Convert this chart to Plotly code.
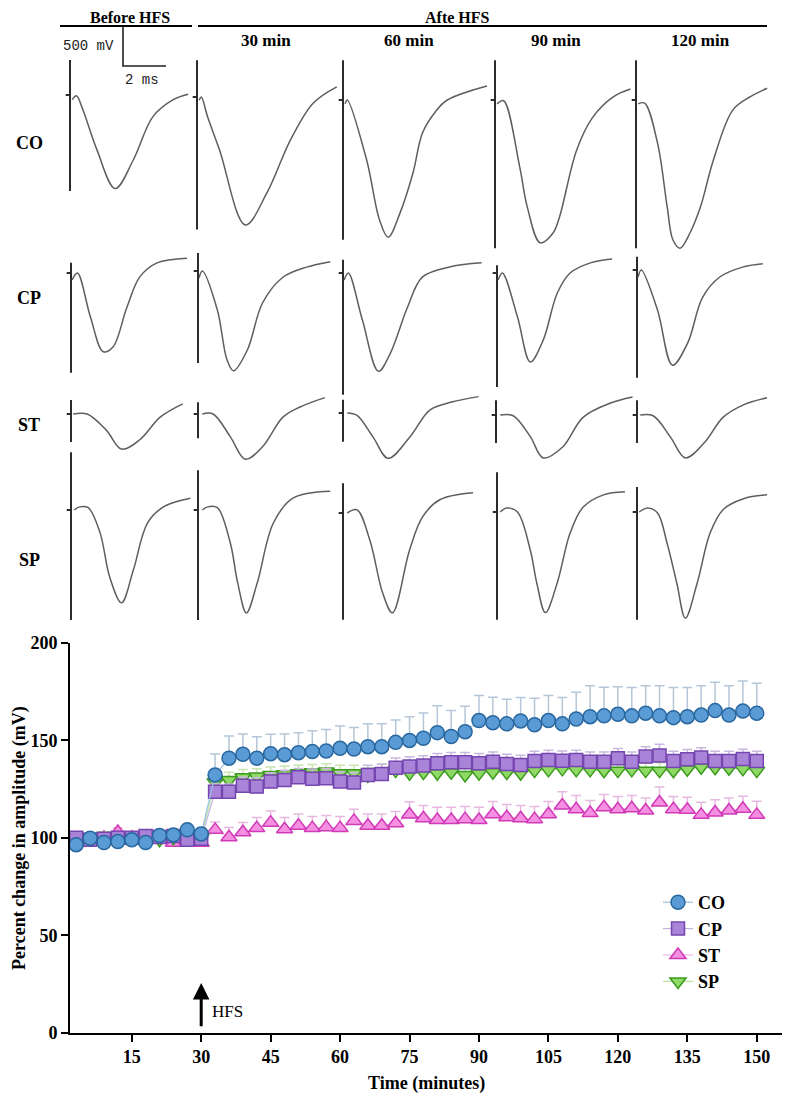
import plotly.graph_objects as go

# ---- LTP time course (percent of baseline amplitude) ----
time_min = [3, 6, 9, 12, 15, 18, 21, 24, 27, 30,
            33, 36, 39, 42, 45, 48, 51, 54, 57, 60,
            63, 66, 69, 72, 75, 78, 81, 84, 87, 90,
            93, 96, 99, 102, 105, 108, 111, 114, 117, 120,
            123, 126, 129, 132, 135, 138, 141, 144, 147, 150]

co_mean = [96.5, 99.8, 97.6, 98.1, 99.0, 97.6, 101.2, 101.5, 104.1, 102.0,
           132.3, 140.9, 142.9, 140.9, 143.2, 142.7, 143.7, 144.3, 144.6, 146.0,
           145.6, 146.8, 146.8, 149.0, 150.0, 151.1, 154.0, 152.0, 154.5, 160.2,
           159.1, 158.5, 160.0, 158.0, 160.2, 158.5, 161.0, 162.2, 162.6, 163.4,
           162.6, 164.0, 162.6, 161.7, 162.2, 163.0, 165.3, 163.0, 165.1, 164.0]
co_sem = [2.0, 2.0, 2.0, 2.0, 2.0, 2.0, 2.5, 2.5, 3.0, 3.0,
          10.7, 11.4, 10.4, 11.0, 10.0, 10.6, 10.3, 10.7, 11.0, 11.4,
          11.0, 11.7, 11.7, 11.5, 12.2, 13.0, 13.8, 13.3, 13.0, 12.8,
          13.0, 12.6, 12.0, 13.6, 12.8, 13.5, 13.7, 15.8, 14.7, 14.2,
          14.5, 14.0, 15.4, 15.4, 14.9, 15.1, 14.5, 15.1, 15.4, 15.3]

cp_mean = [100.0, 99.0, 99.5, 100.0, 100.0, 101.0, 100.5, 101.0, 99.0, 99.5,
           123.7, 123.7, 126.7, 126.3, 128.9, 129.7, 131.1, 130.3, 130.6, 128.9,
           128.4, 132.3, 132.8, 136.0, 136.6, 137.1, 138.3, 138.8, 138.8, 138.3,
           139.1, 137.9, 137.4, 139.5, 140.0, 139.6, 140.0, 139.1, 139.1, 140.9,
           139.1, 141.7, 142.2, 139.5, 140.4, 141.2, 139.5, 139.5, 140.5, 139.5]
cp_sem = [2.0, 2.0, 2.0, 2.0, 2.0, 2.0, 2.0, 2.0, 2.0, 2.0,
          4.0, 4.0, 4.5, 4.5, 4.5, 5.0, 4.5, 5.0, 5.0, 5.0,
          5.0, 5.0, 5.0, 5.0, 5.0, 5.0, 5.0, 5.0, 5.0, 5.0,
          5.0, 5.0, 5.0, 5.0, 5.0, 5.0, 5.0, 5.0, 5.0, 5.0,
          5.0, 5.0, 5.8, 5.0, 5.0, 5.0, 5.0, 5.0, 5.0, 5.0]

st_mean = [99.0, 99.0, 100.0, 103.0, 100.0, 100.0, 100.0, 97.5, 97.5, 97.5,
           104.1, 100.3, 102.9, 105.0, 107.8, 104.4, 106.2, 105.0, 105.5, 105.0,
           108.7, 106.2, 106.2, 107.5, 112.0, 110.1, 109.2, 109.2, 109.6, 109.2,
           112.1, 110.6, 110.1, 109.6, 112.1, 116.6, 114.7, 112.7, 115.7, 114.7,
           115.2, 114.0, 118.1, 114.7, 114.4, 111.8, 113.0, 114.0, 114.9, 111.8]
st_sem = [2.0, 2.0, 2.0, 2.0, 2.0, 2.0, 2.0, 2.0, 2.0, 2.0,
          4.0, 5.0, 5.0, 5.5, 6.0, 6.0, 6.0, 6.0, 6.0, 6.0,
          6.0, 6.0, 6.0, 6.0, 6.5, 6.5, 6.5, 6.5, 6.5, 6.5,
          6.5, 6.5, 6.5, 6.5, 6.5, 7.0, 7.0, 6.5, 6.5, 6.5,
          6.5, 6.5, 8.0, 6.5, 6.5, 6.5, 6.5, 6.5, 6.5, 7.0]

sp_mean = [100.5, 100.0, 101.0, 100.5, 101.0, 100.0, 99.0, 100.0, 100.0, 100.5,
           128.5, 129.7, 131.1, 131.5, 132.3, 132.7, 133.2, 133.7, 134.0, 133.2,
           133.2, 132.0, 134.0, 134.5, 133.2, 133.5, 133.2, 133.7, 132.3, 133.2,
           133.7, 133.5, 133.2, 134.5, 134.9, 135.4, 134.9, 134.9, 134.4, 134.5,
           134.9, 134.5, 134.5, 134.4, 135.2, 136.2, 136.0, 135.7, 135.4, 134.5]
sp_sem = [2.0, 2.0, 2.0, 2.0, 2.0, 2.0, 2.0, 2.0, 2.0, 2.0,
          4.0, 4.0, 4.0, 4.0, 4.0, 4.0, 4.0, 4.0, 4.0, 4.0,
          4.0, 4.0, 4.0, 4.0, 4.0, 4.0, 4.0, 4.0, 4.0, 4.0,
          4.0, 4.0, 4.0, 4.0, 4.0, 4.0, 4.0, 4.0, 4.0, 4.0,
          4.0, 4.0, 4.0, 4.0, 4.0, 4.0, 4.0, 4.0, 4.0, 4.0]

# ---- sample fEPSP traces: ms after stimulus, mV from baseline ----
# columns: before HFS, 30, 60, 90, 120 min
co_ms = [[0.1, 0.3, 0.6, 1.25, 2.1, 2.95, 3.85, 4.8, 5.5],
         [0.1, 0.2, 0.5, 1.05, 2.25, 3.25, 4.35, 5.4, 6.5],
         [0.1, 0.2, 1.1, 1.7, 2.1, 2.65, 3.25, 3.7, 4.3, 4.85, 6.7],
         [0.1, 0.4, 1.15, 1.5, 2.1, 2.7, 3.0, 3.8, 4.55, 5.5, 6.3],
         [0.1, 0.4, 1.0, 1.45, 1.72, 2.05, 2.51, 3.0, 3.6, 4.5, 5.3, 6.1]]
co_mv = [[-60, -10, -190, -700, -1200, -830, -280, -60, 10],
         [-40, 0, -260, -680, -1640, -1230, -550, -80, 130],
         [-50, 0, -770, -1540, -1760, -1450, -940, -420, -150, 0, 180],
         [-50, -10, -860, -1370, -1830, -1705, -1500, -640, -220, 40, 140],
         [-50, -40, -550, -1370, -1795, -1900, -1705, -1370, -770, -130, 40, 150]]
cp_ms = [[0.05, 0.3, 0.9, 1.5, 1.95, 2.6, 3.2, 4.0, 5.4],
         [0.05, 0.2, 0.9, 1.35, 1.65, 2.3, 3.0, 3.95, 5.05, 6.15],
         [0.05, 0.25, 0.9, 1.65, 2.2, 3.0, 3.7, 5.0, 6.45],
         [0.05, 0.25, 0.95, 1.55, 2.15, 2.8, 3.4, 4.35, 5.35],
         [0.05, 0.2, 0.95, 1.65, 2.35, 3.05, 3.85, 4.95, 5.85]]
cp_mv = [[-90, 0, -560, -1010, -950, -440, -50, 130, 190],
         [-90, 0, -500, -1140, -1280, -1010, -410, -80, 50, 120],
         [-90, 0, -600, -1260, -1030, -440, -50, 80, 130],
         [-90, 0, -560, -1140, -860, -260, 0, 130, 180],
         [-90, 0, -510, -1220, -940, -350, -90, 40, 80]]
st_ms = [[0.1, 0.75, 1.65, 2.35, 3.2, 4.15, 5.2],
         [0.2, 0.7, 1.5, 2.2, 3.0, 3.95, 4.75, 5.9],
         [0.2, 0.65, 1.4, 2.1, 3.1, 4.05, 5.05, 6.3],
         [0.2, 0.8, 1.6, 2.2, 3.1, 4.05, 5.3, 6.35],
         [0.15, 0.75, 1.55, 2.25, 3.15, 4.0, 4.95, 6.05]]
st_mv = [[0, 0, -210, -450, -330, -40, 130],
         [0, 0, -290, -580, -420, -40, 90, 210],
         [0, -30, -310, -580, -310, 40, 140, 210],
         [0, -10, -280, -550, -410, -30, 150, 230],
         [0, -10, -280, -550, -350, -30, 130, 220]]
sp_ms = [[0.15, 0.4, 0.8, 1.35, 1.8, 2.35, 2.9, 3.55, 4.3, 5.55],
         [0.2, 0.45, 0.9, 1.5, 1.85, 2.25, 2.75, 3.5, 4.4, 6.15],
         [0.2, 0.65, 1.25, 1.85, 2.3, 3.1, 3.7, 4.5, 6.05],
         [0.15, 0.45, 0.95, 1.55, 1.85, 2.25, 2.8, 3.4, 4.0, 4.95, 5.95],
         [0.1, 0.5, 0.95, 1.4, 1.85, 2.25, 2.8, 3.4, 4.0, 4.95, 6.05]]
sp_mv = [[0, 40, 30, -290, -860, -1190, -770, -170, 40, 150],
         [0, 40, 30, -420, -940, -1320, -940, -170, 150, 240],
         [0, 40, -350, -1030, -1280, -470, -50, 170, 260],
         [0, 50, 0, -490, -910, -1290, -910, -270, 60, 220, 260],
         [0, 50, -10, -400, -910, -1360, -910, -270, 30, 170, 220]]

# stimulus artifact extent (top, bottom) in mV
co_artifact = [(450, -1230), (470, -1700), (510, -1790), (510, -1900), (510, -1900)]
cp_artifact = [(130, -1280), (230, -1180), (170, -1560), (100, -1460), (170, -1380)]
st_artifact = [(180, -360), (150, -310), (170, -370), (190, -360), (190, -360)]
sp_artifact = [(740, -1410), (510, -1410), (380, -1370), (510, -1380), (320, -1380)]

row_names = ['CO', 'CP', 'ST', 'SP']
col_names = ['30 min', '60 min', '90 min', '120 min']

# ---- page geometry (screen pixels; the page body adds an 8px margin) ----
OFF = 8
FW, FH = 790 - OFF, 1102 - OFF
PX_PER_MS = 21.5
MV_PER_PX = 12.82
TOP_H = 630


def fx(px):
    return (px - OFF) / FW


def fy(py):
    return 1 - (py - OFF) / FH


cell_x = [[70, 197, 343, 495, 636],
          [71, 198, 343, 497, 637],
          [71, 198, 343, 496, 637],
          [71, 198, 343, 497, 637]]
cell_y = [[95, 97, 100, 100, 100],
          [273, 271, 273, 273, 270],
          [414, 414, 413, 415, 415],
          [510, 510, 513, 512, 512]]
row_label_y = [143, 298, 425, 560]

fig = go.Figure()

waves = [(co_ms, co_mv, co_artifact), (cp_ms, cp_mv, cp_artifact),
         (st_ms, st_mv, st_artifact), (sp_ms, sp_mv, sp_artifact)]
for r, (ms, mv, art) in enumerate(waves):
    for c in range(5):
        ox = cell_x[r][c] / PX_PER_MS
        oy = -cell_y[r][c] * MV_PER_PX
        fig.add_trace(go.Scatter(
            x=[ox - 0.2, ox, None, ox, ox],
            y=[oy, oy, None, oy + art[c][0], oy + art[c][1]],
            mode='lines', line=dict(color='#2b2b2b', width=2),
            xaxis='x2', yaxis='y2', showlegend=False, hoverinfo='skip'))
        fig.add_trace(go.Scatter(
            x=[ox + t for t in ms[c]], y=[oy + v for v in mv[c]],
            mode='lines', line=dict(color='#5e5e5e', width=1.5, shape='spline', smoothing=1.0),
            xaxis='x2', yaxis='y2', showlegend=False, hoverinfo='skip'))

# scale bar 500 mV / 2 ms
sx = 123 / PX_PER_MS
sy = -66 * MV_PER_PX
fig.add_trace(go.Scatter(x=[sx, sx, sx + 2], y=[sy + 500, sy, sy],
                         mode='lines', line=dict(color='#222222', width=1.6),
                         xaxis='x2', yaxis='y2', showlegend=False, hoverinfo='skip'))

# ---- time course traces ----
series = [
    ('ST', st_mean, st_sem, 'triangle-up', '#f58fe2', '#d03ab6', '#f4b6ea', '#e8b9e0', 3),
    ('SP', sp_mean, sp_sem, 'triangle-down', '#8fd966', '#3c9a1e', '#b8e49c', '#c7e4b1', 4),
    ('CP', cp_mean, cp_sem, 'square', '#a983d8', '#7646b0', '#c7b2e4', '#c9b8df', 2),
    ('CO', co_mean, co_sem, 'circle', '#5b9bd5', '#28679f', '#9cc0e3', '#b5c6d9', 1),
]
for name, mean, sem, sym, fill, edge, line_c, err_c, rank in series:
    fig.add_trace(go.Scatter(
        x=time_min, y=mean, name='<b>' + name + '</b>', legendrank=rank,
        mode='lines+markers',
        line=dict(color=line_c, width=1.2),
        marker=dict(symbol=sym, size=14 if sym != 'square' else 13,
                    color=fill, line=dict(color=edge, width=1.5)),
        error_y=dict(type='data', array=sem, arrayminus=[0] * len(sem), symmetric=False,
                     color=err_c, thickness=1.5, width=5),
    ))

serif = 'Liberation Serif'
ann = []


def label(text, px, py, size=18, family=serif, color='black', angle=0):
    ann.append(dict(x=fx(px), y=fy(py), xref='paper', yref='paper', text=text,
                    xanchor='center', yanchor='middle', textangle=angle, showarrow=False,
                    font=dict(family=family, size=size, color=color)))


# HFS arrow
ann.append(dict(x=30, y=25.5, ax=30, ay=2.5, xref='x', yref='y', axref='x', ayref='y',
                text='', showarrow=True, arrowhead=2, arrowsize=1.1, arrowwidth=3,
                arrowcolor='black'))
ann.append(dict(x=35.6, y=10.8, xref='x', yref='y', text='HFS', showarrow=False,
                xanchor='center', yanchor='middle',
                font=dict(family=serif, size=17, color='black')))
# axis titles
label('<b>Percent change in amplitude (mV)</b>', 19, 838, angle=-90)
label('<b>Time (minutes)</b>', 427, 1083)
# headers of the trace panel
label('<b>Before HFS</b>', 130, 18, size=16)
label('<b>Afte HFS</b>', 457, 18, size=16)
for name, px in zip(col_names, [266, 409, 556, 700]):
    label('<b>' + name + '</b>', px, 41, size=17)
for name, py in zip(row_names, row_label_y):
    label('<b>' + name + '</b>', 29, py)
label('500 mV', 88, 46, size=14, family='Liberation Mono', color='#222222')
label('2 ms', 142, 80, size=14, family='Liberation Mono', color='#222222')

shapes = [
    dict(type='line', xref='paper', yref='paper', x0=fx(60), x1=fx(192),
         y0=fy(26), y1=fy(26), line=dict(color='black', width=2)),
    dict(type='line', xref='paper', yref='paper', x0=fx(198), x1=fx(767),
         y0=fy(26), y1=fy(26), line=dict(color='black', width=2)),
]

axis_font = dict(family=serif, size=18, color='black', weight='bold')
fig.update_layout(
    width=FW, height=FH,
    margin=dict(l=0, r=0, t=0, b=0),
    paper_bgcolor='white', plot_bgcolor='white',
    showlegend=True,
    legend=dict(x=fx(658), y=fy(884), xanchor='left', yanchor='top',
                bgcolor='rgba(0,0,0,0)', font=dict(family=serif, size=18, color='black')),
    xaxis=dict(domain=[fx(70), fx(785)], range=[1.66, 156.1],
               tickvals=[15, 30, 45, 60, 75, 90, 105, 120, 135, 150],
               showline=True, linecolor='black', linewidth=2,
               ticks='outside', ticklen=7, tickwidth=2, tickcolor='black',
               showgrid=False, zeroline=False, tickfont=axis_font, anchor='y', automargin=False),
    yaxis=dict(domain=[fy(1032.7), fy(643)], range=[0, 200],
               tickvals=[0, 50, 100, 150, 200],
               showline=True, linecolor='black', linewidth=2,
               ticks='outside', ticklen=7, tickwidth=2, tickcolor='black',
               showgrid=False, zeroline=False, tickfont=axis_font, anchor='x', automargin=False),
    xaxis2=dict(domain=[0, 1], range=[OFF / PX_PER_MS, 790 / PX_PER_MS], visible=False, anchor='y2'),
    yaxis2=dict(domain=[fy(TOP_H), 1], range=[-TOP_H * MV_PER_PX, -OFF * MV_PER_PX],
                visible=False, anchor='x2'),
    annotations=ann,
    shapes=shapes,
)

fig.write_html("out.html")
